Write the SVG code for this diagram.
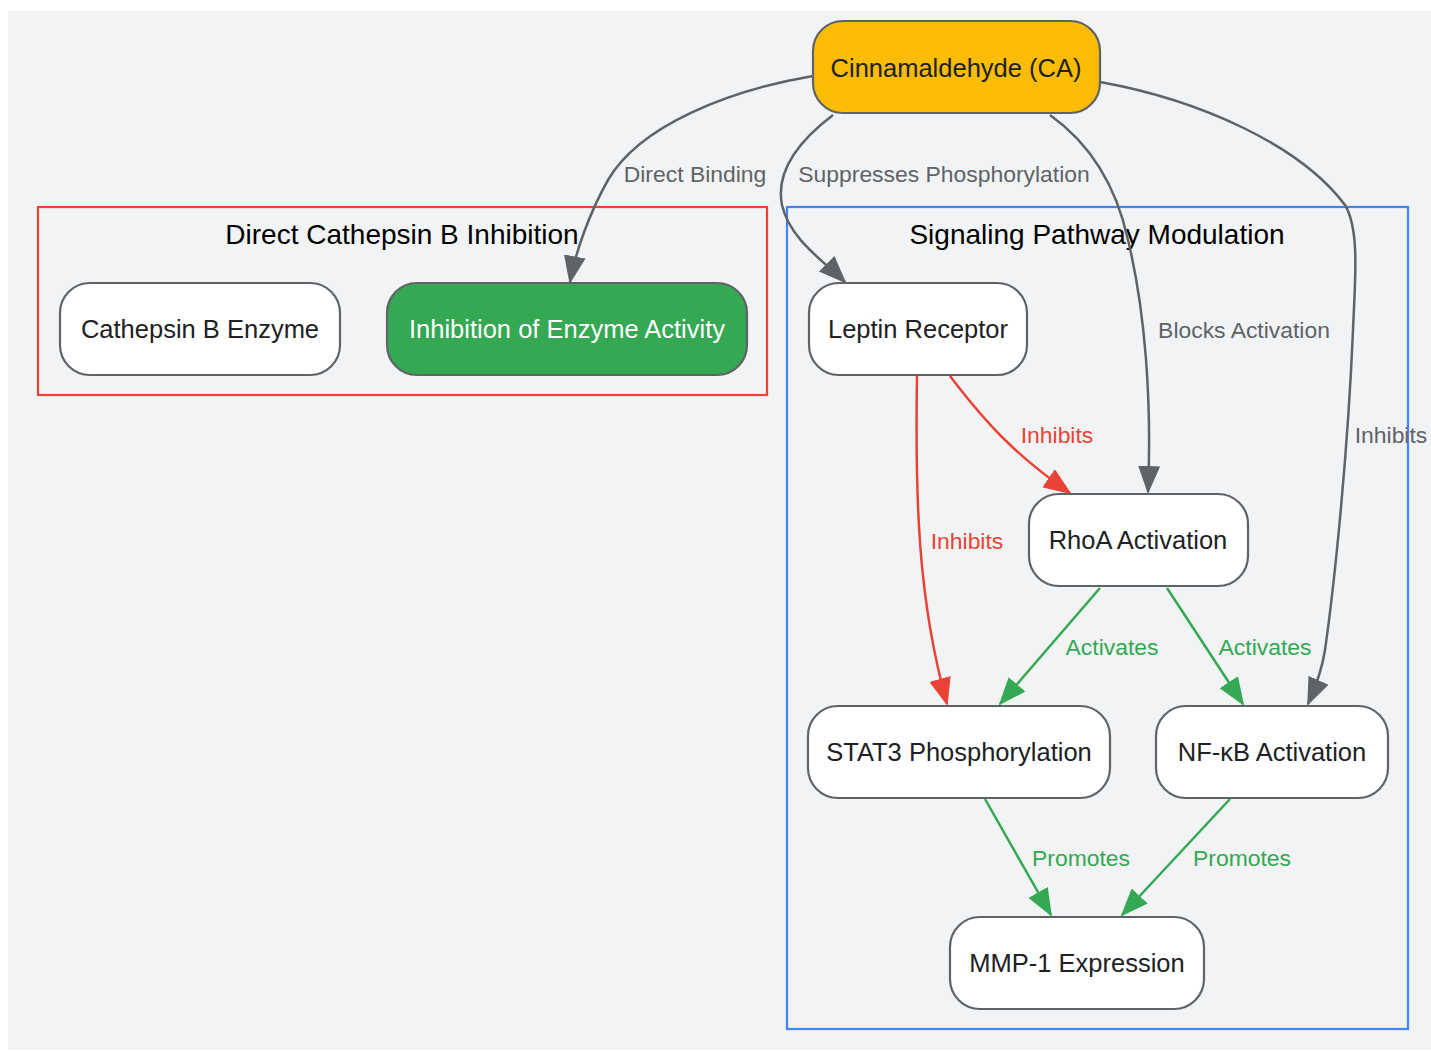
<svg xmlns="http://www.w3.org/2000/svg" width="1431" height="1051" viewBox="0 0 1431 1051">
<style>
text{font-family:"Liberation Sans",Arial,sans-serif;text-anchor:middle;dominant-baseline:central}
.node rect{stroke:#5f6368;stroke-width:2.2;fill:#ffffff}
.node text{font-size:25.5px;fill:#202124}
.title{font-size:28px;fill:#000}
.lbl{font-size:22.9px}
.e{fill:none;stroke-width:2.5}
.g{stroke:#5f6368}.r{stroke:#ea4335}.gr{stroke:#34a853}
.lg{fill:#5f6368}.lr{fill:#ea4335}.lgr{fill:#34a853}
</style>
<defs>
<marker id="ag" viewBox="0 0 28 22" refX="26" refY="11" markerWidth="28" markerHeight="22" markerUnits="userSpaceOnUse" orient="auto"><path d="M0,0L28,11L0,22z" fill="#5f6368"/></marker>
<marker id="ar" viewBox="0 0 28 22" refX="26" refY="11" markerWidth="28" markerHeight="22" markerUnits="userSpaceOnUse" orient="auto"><path d="M0,0L28,11L0,22z" fill="#ea4335"/></marker>
<marker id="agr" viewBox="0 0 28 22" refX="26" refY="11" markerWidth="28" markerHeight="22" markerUnits="userSpaceOnUse" orient="auto"><path d="M0,0L28,11L0,22z" fill="#34a853"/></marker>
</defs>
<rect x="8" y="11" width="1423" height="1039" fill="#f1f3f4"/>
<g id="cluster-direct">
<rect x="38" y="207" width="729" height="188" fill="none" stroke="#ea4335" stroke-width="2.2"/>
<text class="title" x="402" y="234">Direct Cathepsin B Inhibition</text>
</g>
<g id="cluster-signal">
<rect x="787" y="207" width="621" height="822" fill="none" stroke="#4285f4" stroke-width="2.2"/>
<text class="title" x="1097" y="234">Signaling Pathway Modulation</text>
</g>
<g id="connectors">
<path class="e g" d="M813,76 C730,90 640,125 608,180 C590,212 576,250 570,282" marker-end="url(#ag)"/>
<path class="e g" d="M833,115 C800,140 775,170 782,205 C790,240 825,262 845,282" marker-end="url(#ag)"/>
<path class="e g" d="M1050,115 C1085,140 1115,180 1128,240 C1145,310 1152,400 1148,492" marker-end="url(#ag)"/>
<path class="e g" d="M1100,82 C1200,100 1300,145 1345,205 C1360,230 1355,280 1353,330 C1348,450 1335,580 1325,650 C1322,670 1316,686 1308,704" marker-end="url(#ag)"/>
<path class="e r" d="M950,376 C985,422 1015,455 1070,493" marker-end="url(#ar)"/>
<path class="e r" d="M917,376 C915,500 918,600 947,704" marker-end="url(#ar)"/>
<path class="e gr" d="M1100,588 L1000,704" marker-end="url(#agr)"/>
<path class="e gr" d="M1167,588 L1243,704" marker-end="url(#agr)"/>
<path class="e gr" d="M985,799 L1051,915" marker-end="url(#agr)"/>
<path class="e gr" d="M1230,799 L1122,915" marker-end="url(#agr)"/>
<text class="lbl lg" x="695" y="174">Direct Binding</text>
<text class="lbl lg" x="944" y="174">Suppresses Phosphorylation</text>
<text class="lbl lg" x="1244" y="330">Blocks Activation</text>
<text class="lbl lg" x="1391" y="435">Inhibits</text>
<text class="lbl lr" x="1057" y="435">Inhibits</text>
<text class="lbl lr" x="967" y="541">Inhibits</text>
<text class="lbl lgr" x="1112" y="647">Activates</text>
<text class="lbl lgr" x="1265" y="647">Activates</text>
<text class="lbl lgr" x="1081" y="858">Promotes</text>
<text class="lbl lgr" x="1242" y="858">Promotes</text>
</g>
<g id="ca" class="node"><rect x="813" y="21" width="287" height="92" rx="30" style="fill:#fbbc04"/><text x="956" y="68">Cinnamaldehyde (CA)</text></g>
<g id="cathepsin" class="node"><rect x="60" y="283" width="280" height="92" rx="30"/><text x="200" y="329">Cathepsin B Enzyme</text></g>
<g id="inhibition" class="node"><rect x="387" y="283" width="360" height="92" rx="30" style="fill:#34a853"/><text x="567" y="329" style="fill:#ffffff">Inhibition of Enzyme Activity</text></g>
<g id="leptin" class="node"><rect x="809" y="283" width="218" height="92" rx="30"/><text x="918" y="329">Leptin Receptor</text></g>
<g id="rhoa" class="node"><rect x="1029" y="494" width="219" height="92" rx="30"/><text x="1138" y="540">RhoA Activation</text></g>
<g id="stat3" class="node"><rect x="808" y="706" width="302" height="92" rx="30"/><text x="959" y="752">STAT3 Phosphorylation</text></g>
<g id="nfkb" class="node"><rect x="1156" y="706" width="232" height="92" rx="30"/><text x="1272" y="752">NF-κB Activation</text></g>
<g id="mmp1" class="node"><rect x="950" y="917" width="254" height="92" rx="30"/><text x="1077" y="963">MMP-1 Expression</text></g>
</svg>
